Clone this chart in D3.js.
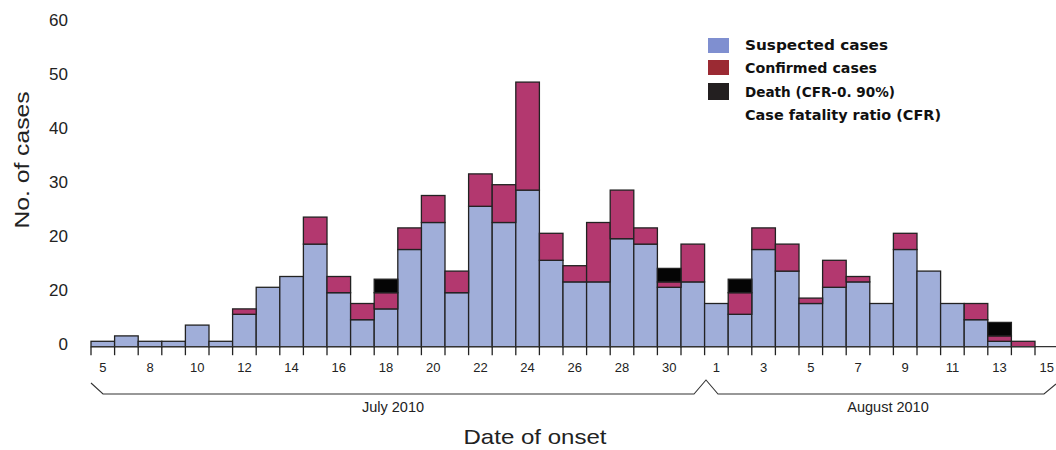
<!DOCTYPE html>
<html>
<head>
<meta charset="utf-8">
<script src="https://cdn.jsdelivr.net/npm/d3@7"></script>
<style>
  html, body { margin: 0; padding: 0; background: #fff; }
  svg { display: block; }
</style>
</head>
<body>
<svg id="chart" width="1056" height="450"></svg>
<script>
// ---- data ----
const categories = [
  "Jul 5","Jul 7","Jul 8","Jul 9","Jul 10","Jul 11","Jul 12","Jul 13","Jul 14","Jul 15",
  "Jul 16","Jul 17","Jul 18","Jul 19","Jul 20","Jul 21","Jul 22","Jul 23","Jul 24","Jul 25",
  "Jul 26","Jul 27","Jul 28","Jul 29","Jul 30","Jul 31",
  "Aug 1","Aug 2","Aug 3","Aug 4","Aug 5","Aug 6","Aug 7","Aug 8","Aug 9","Aug 10",
  "Aug 11","Aug 12","Aug 13","Aug 14","Aug 15"
];
const suspected = [
  1,2,1,1,4,1,6,11,13,19,
  10,5,7,18,23,10,26,23,29,16,
  12,12,20,19,11,12,
  8,6,18,14,8,11,12,8,18,14,
  8,5,1,0,0
];
const confirmed = [
  0,0,0,0,0,0,1,0,0,5,
  3,3,3,4,5,4,6,7,20,5,
  3,11,9,3,1,7,
  0,4,4,5,1,5,1,0,3,0,
  0,3,1,1,0
];
const deaths = [
  0,0,0,0,0,0,0,0,0,0,
  0,0,2.5,0,0,0,0,0,0,0,
  0,0,0,0,2.5,0,
  0,2.5,0,0,0,0,0,0,0,0,
  0,0,2.5,0,0
];
const labelledCategories = ["Jul 5","Jul 8","Jul 10","Jul 12","Jul 14","Jul 16","Jul 18","Jul 20",
  "Jul 22","Jul 24","Jul 26","Jul 28","Jul 30","Aug 1","Aug 3","Aug 5","Aug 7","Aug 9",
  "Aug 11","Aug 13","Aug 15"];
const tickLabels = ["5","8","10","12","14","16","18","20","22","24","26","28","30",
  "1","3","5","7","9","11","13","15"];
const yTickValues = [0,10,20,30,40,50,60];
const yTickLabels = ["0","20","20","30","40","50","60"];
const seriesNames = ["Suspected cases","Confirmed cases","Death (CFR-0. 90%)"];
const legendExtra = "Case fatality ratio (CFR)";
const monthLabels = ["July 2010","August 2010"];

// ---- drawing ----
const svg = d3.select("#chart");
const barColors = ["#a0aed9","#b3386f","#050505"];
const legendColors = ["#7f8fd0","#9b2a33","#231f20"];

const x = d3.scaleBand().domain(categories).range([91, 91 + 41 * 23.6]).padding(0);
const y = d3.scaleLinear().domain([0, 60]).range([346.7, 22.7]);

const rows = categories.map((c, i) => ({cat: c, s: suspected[i], c: confirmed[i], d: deaths[i]}));
const stack = d3.stack().keys(["s","c","d"]);
const layers = stack(rows);

svg.append("g").selectAll("g")
  .data(layers)
  .join("g")
  .attr("fill", (d, i) => barColors[i])
  .selectAll("rect")
  .data(d => d.filter(p => p[1] - p[0] > 0))
  .join("rect")
  .attr("x", d => x(d.data.cat))
  .attr("y", d => y(d[1]))
  .attr("width", x.bandwidth())
  .attr("height", d => y(d[0]) - y(d[1]))
  .attr("stroke", "#222")
  .attr("stroke-width", 1.3);

// baseline + ticks
svg.append("line")
  .attr("x1", 91).attr("x2", 1056)
  .attr("y1", y(0)).attr("y2", y(0))
  .attr("stroke", "#333").attr("stroke-width", 1.3);

const boundaries = categories.slice(0, 40).map(c => x(c)).concat([x("Aug 14") + x.bandwidth()]);
svg.append("g").selectAll("line")
  .data(boundaries)
  .join("line")
  .attr("x1", d => d).attr("x2", d => d)
  .attr("y1", y(0)).attr("y2", y(0) + 8.5)
  .attr("stroke", "#222").attr("stroke-width", 1.3);

svg.append("g").selectAll("text")
  .data(labelledCategories)
  .join("text")
  .attr("x", d => x(d) + x.bandwidth() / 2)
  .attr("y", 372)
  .attr("text-anchor", "middle")
  .attr("font-family", "Liberation Sans, Arial, sans-serif")
  .attr("font-size", 13)
  .attr("fill", "#222")
  .text((d, i) => tickLabels[i]);

// y tick labels (no axis line)
svg.append("g").selectAll("text")
  .data(yTickValues)
  .join("text")
  .attr("x", 68)
  .attr("y", d => y(d) + 3)
  .attr("text-anchor", "end")
  .attr("font-family", "Liberation Sans, Arial, sans-serif")
  .attr("font-size", 17)
  .attr("fill", "#222")
  .text((d, i) => yTickLabels[i]);

// brace
svg.append("path")
  .attr("d", "M91,383 L103,394 L694,394 L706,380 L718,394 L1044,394 L1056,384")
  .attr("fill", "none").attr("stroke", "#333").attr("stroke-width", 1.1);

svg.append("text").attr("x", 393).attr("y", 412).attr("text-anchor", "middle")
  .attr("font-family", "Liberation Sans, Arial, sans-serif").attr("font-size", 14.5)
  .attr("fill", "#222").text(monthLabels[0]);
svg.append("text").attr("x", 888).attr("y", 412).attr("text-anchor", "middle")
  .attr("font-family", "Liberation Sans, Arial, sans-serif").attr("font-size", 14.5)
  .attr("fill", "#222").text(monthLabels[1]);

// axis titles
svg.append("text").attr("x", 535).attr("y", 444).attr("text-anchor", "middle")
  .attr("font-family", "Liberation Sans, Arial, sans-serif").attr("font-size", 21)
  .attr("textLength", 143).attr("lengthAdjust", "spacingAndGlyphs")
  .attr("fill", "#222").text("Date of onset");
svg.append("text")
  .attr("transform", "translate(29,160) rotate(-90)")
  .attr("text-anchor", "middle")
  .attr("font-family", "Liberation Sans, Arial, sans-serif").attr("font-size", 21)
  .attr("textLength", 137).attr("lengthAdjust", "spacingAndGlyphs")
  .attr("fill", "#222").text("No. of cases");

// legend
const legend = svg.append("g");
const swatchY = [38, 60, 83];
const swatchH = [15, 15, 17];
legend.selectAll("rect")
  .data(seriesNames)
  .join("rect")
  .attr("x", 708).attr("y", (d, i) => swatchY[i])
  .attr("width", 21).attr("height", (d, i) => swatchH[i])
  .attr("fill", (d, i) => legendColors[i]);
const legendTexts = seriesNames.concat([legendExtra]);
const legendY = [50, 73, 97, 120];
const legendW = [143, 132, 150, 196];
legend.selectAll("text")
  .data(legendTexts)
  .join("text")
  .attr("x", 745).attr("y", (d, i) => legendY[i])
  .attr("font-family", "DejaVu Sans, Verdana, sans-serif")
  .attr("font-weight", "bold")
  .attr("font-size", 14)
  .attr("textLength", (d, i) => legendW[i])
  .attr("lengthAdjust", "spacingAndGlyphs")
  .attr("fill", "#111")
  .text(d => d);
</script>
</body>
</html>
